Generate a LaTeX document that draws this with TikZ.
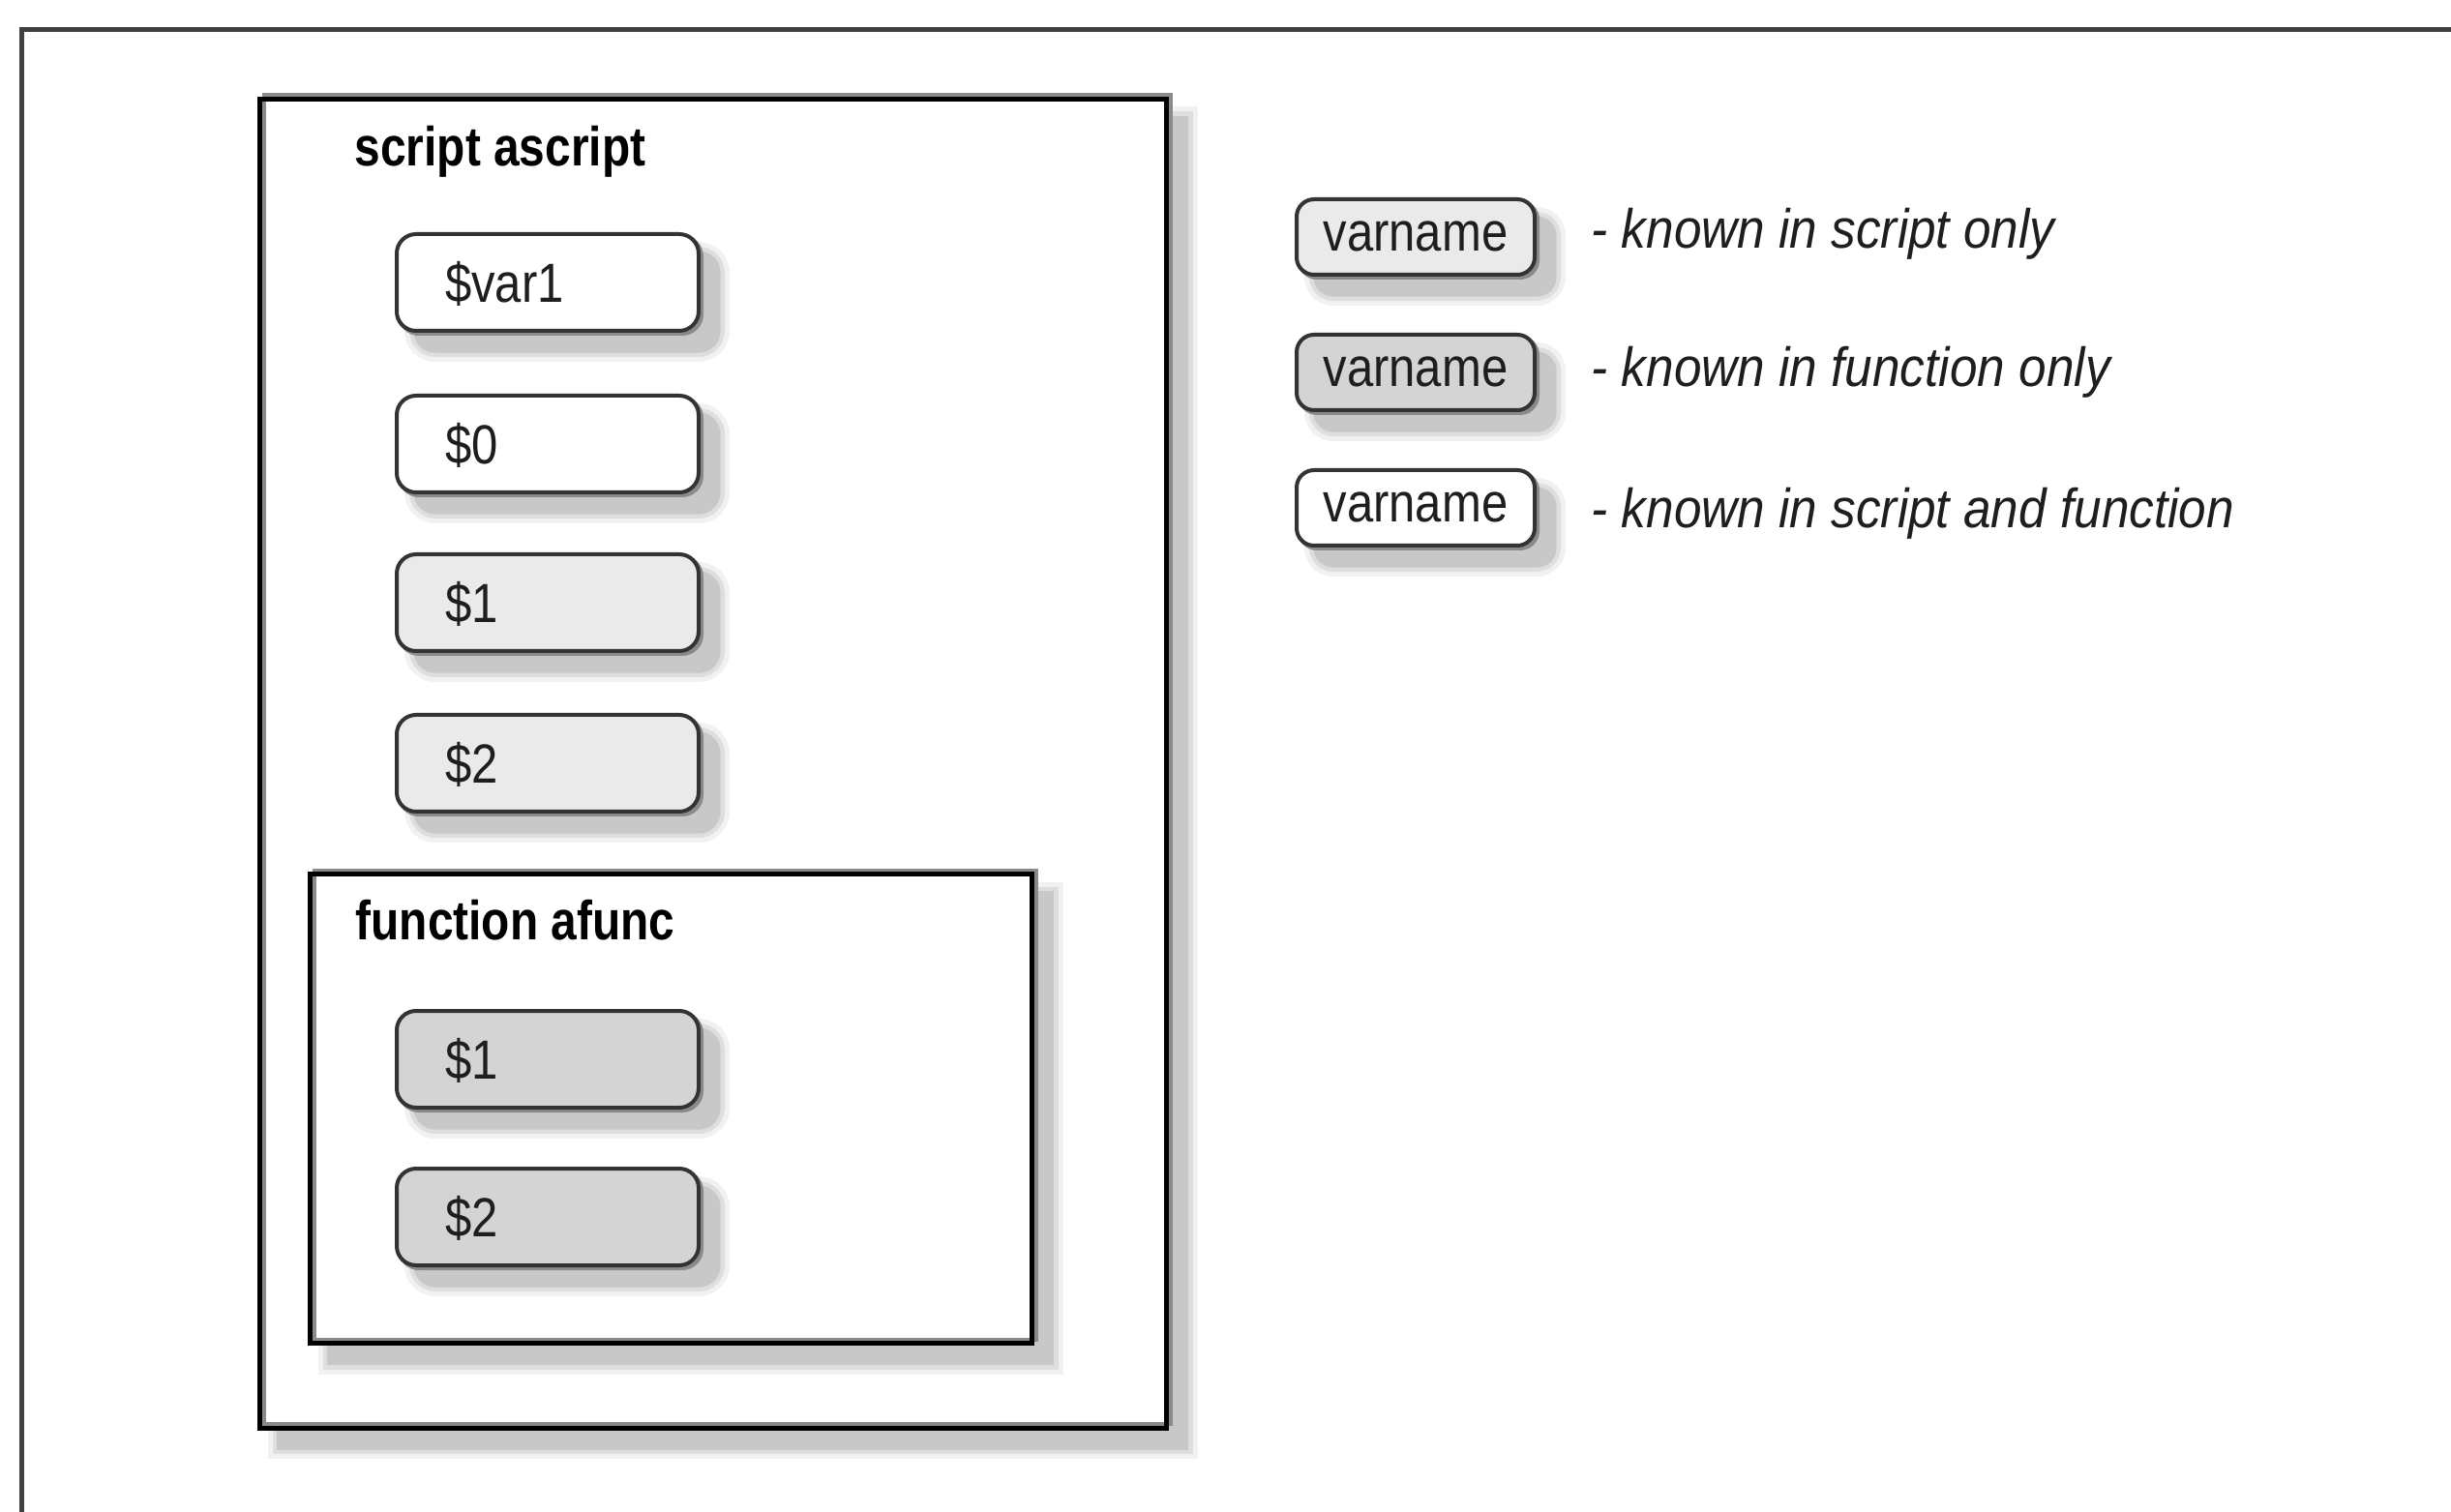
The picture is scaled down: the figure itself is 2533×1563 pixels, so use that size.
\documentclass[tikz,border=0pt]{standalone}
\usepackage{fontspec}
\setmainfont{Liberation Sans}
\newfontfamily\regf{Liberation Sans}[FakeStretch=0.86]
\newfontfamily\titf{Liberation Sans}[FakeStretch=0.84]
\newfontfamily\itf{Liberation Sans}[FakeStretch=0.90]
\definecolor{framec}{HTML}{404040}
\definecolor{boxline}{HTML}{333333}
\definecolor{edgegray}{HTML}{8A8A8A}
\definecolor{lightf}{HTML}{EAEAEA}
\definecolor{darkf}{HTML}{D4D4D4}
\definecolor{sha}{HTML}{F1F1F1}
\definecolor{shb}{HTML}{DEDEDE}
\definecolor{shc}{HTML}{C8C8C8}
\definecolor{txt}{HTML}{1E1E1E}
\tikzset{
  shadowed/.style={
    preaction={draw=sha, fill=sha, line width=7.2pt, transform canvas={shift={(#1,-#1)}}},
    preaction={draw=shb, fill=shb, line width=4.2pt, transform canvas={shift={(#1,-#1)}}},
    preaction={draw=shc, fill=shc, line width=1.6pt, transform canvas={shift={(#1,-#1)}}}
  },
  bigbox/.style={draw=black, line width=1.5pt, fill=white, shadowed=6pt,
    postaction={draw=edgegray, line width=1.2pt, transform canvas={shift={(1.2pt,1.2pt)}}},
    postaction={draw=black, line width=1.5pt},
    inner sep=0pt},
  roundbox/.style={draw=boxline, line width=1.2pt, shadowed=6pt,
    preaction={draw=edgegray, line width=1.2pt, transform canvas={shift={(0.9pt,-0.9pt)}}},
    inner ysep=0pt, text=txt, font=\regf\fontsize{17.1pt}{20pt}\selectfont, text depth=0pt},
  varbox/.style={roundbox, rounded corners=6pt, minimum width=93.6pt, minimum height=30pt,
    inner xsep=15pt, text width=63.6pt, align=left, text height=12.3pt},
  legbox/.style={roundbox, rounded corners=5.4pt, minimum width=73.8pt, minimum height=23.4pt,
    inner xsep=0pt, text height=8.9pt},
  titlelabel/.style={inner sep=0pt, anchor=base west, text=black,
    font=\titf\bfseries\fontsize{17.1pt}{20pt}\selectfont},
  legtext/.style={inner sep=0pt, anchor=base west, text=txt,
    font=\itf\itshape\fontsize{17.1pt}{20pt}\selectfont}
}
\begin{document}
\begin{tikzpicture}[x=0.3pt,y=-0.3pt]
\useasboundingbox[fill=white] (0,0) rectangle (2533,1563);
% page frame
\draw[line width=1.5pt, draw=framec] (22,1570) -- (22,31) -- (2540,31);
% script box
\node[bigbox, minimum width=281.1pt, minimum height=412.2pt] (script) at (737,789.5) {};
\node[titlelabel] (scripttitle) at (366,172) {script ascript};
\node[varbox, fill=white] (var1) at (566,292) {\$var1};
\node[varbox, fill=white] (s0) at (566,459) {\$0};
\node[varbox, fill=lightf] (s1) at (566,623) {\$1};
\node[varbox, fill=lightf] (s2) at (566,789) {\$2};
% function box
\node[bigbox, minimum width=223.8pt, minimum height=145.5pt] (func) at (693.5,1146) {};
\node[titlelabel] (functitle) at (367,972) {function afunc};
\node[varbox, fill=darkf] (f1) at (566,1095) {\$1};
\node[varbox, fill=darkf] (f2) at (566,1258) {\$2};
% legend
\node[legbox, fill=lightf] (l1) at (1463,245) {varname};
\node[legbox, fill=darkf] (l2) at (1463,385) {varname};
\node[legbox, fill=white] (l3) at (1463,525) {varname};
\node[legtext] (t1) at (1644,257) {- known in script only};
\node[legtext] (t2) at (1644,400) {- known in function only};
\node[legtext] (t3) at (1644,546) {- known in script and function};
\end{tikzpicture}
\end{document}
